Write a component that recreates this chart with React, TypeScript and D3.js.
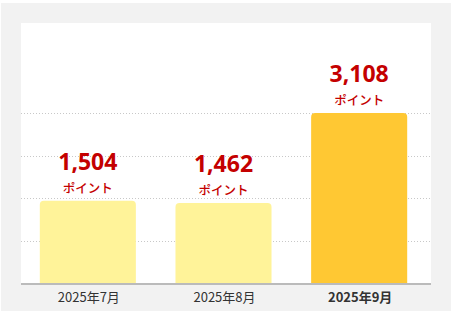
import React from "react";
import * as d3 from "d3";

const categories = ["2025年7月", "2025年8月", "2025年9月"];
const values = [1504, 1462, 3108];
const highlight = [false, false, true];
const unitLabel = "ポイント";
const gridFractions = [0.25, 0.5, 0.75, 1];

const W = 452;
const H = 311;

export default function App() {
  const panel = { x: 21, y: 23, w: 410, h: 260 };
  const baseY = 283;
  const maxV = d3.max(values) as number;
  const y = d3.scaleLinear().domain([0, maxV]).range([baseY, 113]);
  const x = d3.scaleBand<string>().domain(categories).range([20, 427]).padding(0);
  const barW = x.bandwidth() * 0.708;
  const r = 4;

  const barPath = (x0: number, y0: number, w: number, h: number) => {
    const p = d3.path();
    p.moveTo(x0, y0 + h);
    p.lineTo(x0, y0 + r);
    p.arcTo(x0, y0, x0 + r, y0, r);
    p.lineTo(x0 + w - r, y0);
    p.arcTo(x0 + w, y0, x0 + w, y0 + r, r);
    p.lineTo(x0 + w, y0 + h);
    p.closePath();
    return p.toString();
  };

  return (
    <svg width={W} height={H} style={{ position: "absolute", left: 0, top: 0, display: "block" }}>
      <rect x={1} y={3} width={450} height={308} fill="#f2f2f2" />
      <rect x={panel.x} y={panel.y} width={panel.w} height={panel.h} fill="#ffffff" />
      {gridFractions.map((f, i) => (
        <line
          key={i}
          x1={panel.x}
          x2={panel.x + panel.w}
          y1={Math.round(y(maxV * f)) + 0.5}
          y2={Math.round(y(maxV * f)) + 0.5}
          stroke="#c8c8c8"
          strokeWidth={1}
          strokeDasharray="1 2"
        />
      ))}
      {categories.map((c, i) => {
        const cx = (x(c) as number) + x.bandwidth() / 2;
        const top = y(values[i]);
        return (
          <g key={c}>
            <path
              d={barPath(cx - barW / 2, top, barW, baseY - top)}
              fill={highlight[i] ? "#ffc833" : "#fff399"}
            />
            <text
              x={cx}
              y={top - 31}
              textAnchor="middle"
              fill="#c40000"
              fontFamily="'Open Sans', sans-serif"
              fontWeight={700}
              fontSize={23}
            >
              {d3.format(",")(values[i])}
            </text>
            <text
              x={cx}
              y={top - 8}
              textAnchor="middle"
              fill="#c40000"
              fontFamily="'Noto Sans CJK JP', sans-serif"
              fontWeight={500}
              fontSize={12.5}
            >
              {unitLabel}
            </text>
            <text
              x={cx + 1}
              y={302}
              textAnchor="middle"
              fill="#333333"
              fontFamily="'Noto Sans CJK JP', sans-serif"
              fontWeight={highlight[i] ? 700 : 400}
              fontSize={13}
            >
              {c}
            </text>
          </g>
        );
      })}
      <line x1={panel.x} x2={panel.x + panel.w} y1={284} y2={284} stroke="#bbbbbb" strokeWidth={2} />
    </svg>
  );
}
